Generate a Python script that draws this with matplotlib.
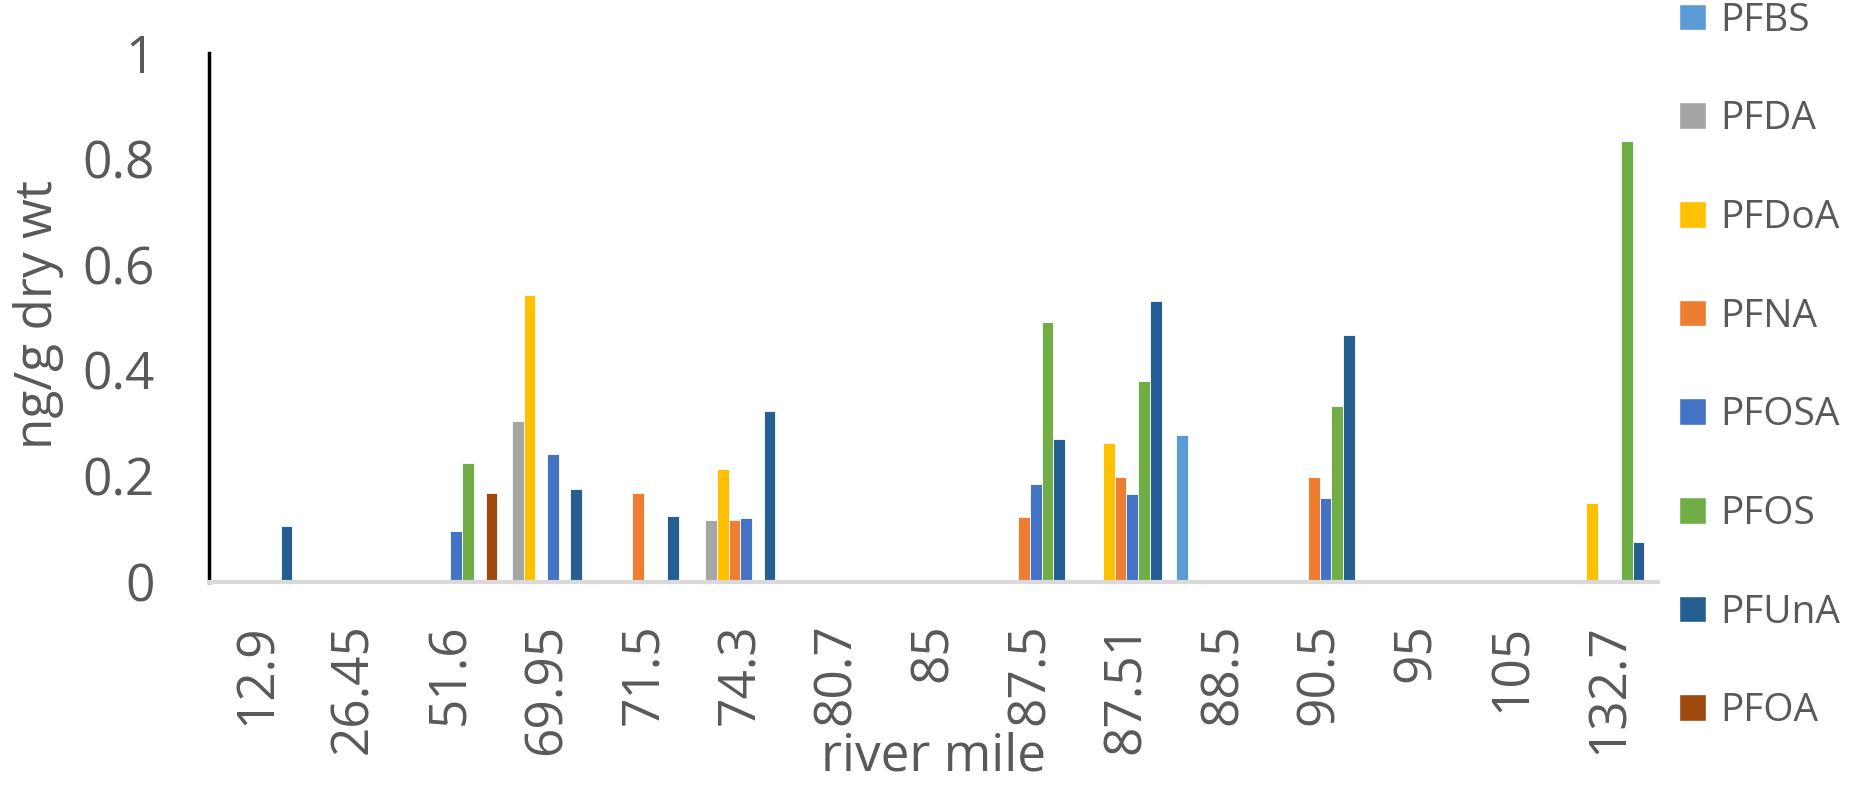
import numpy as np
import matplotlib
matplotlib.use("Agg")
import matplotlib.pyplot as plt
from matplotlib.patches import Patch

plt.rcParams['font.family'] = ['Open Sans', 'DejaVu Sans']

# river mile categories
miles = ['12.9', '26.45', '51.6', '69.95', '71.5', '74.3', '80.7', '85',
         '87.5', '87.51', '88.5', '90.5', '95', '105', '132.7']

# ng/g dry wt (0 = no bar)
pfbs  = [0, 0, 0, 0, 0, 0, 0, 0, 0, 0, 0.278, 0, 0, 0, 0]
pfda  = [0, 0, 0, 0.305, 0, 0.117, 0, 0, 0, 0, 0, 0, 0, 0, 0]
pfdoa = [0, 0, 0, 0.543, 0, 0.214, 0, 0, 0, 0.263, 0, 0, 0, 0, 0.148]
pfna  = [0, 0, 0, 0, 0.167, 0.117, 0, 0, 0.123, 0.199, 0, 0.199, 0, 0, 0]
pfosa = [0, 0, 0.095, 0.242, 0, 0.121, 0, 0, 0.184, 0.166, 0, 0.159, 0, 0, 0]
pfos  = [0, 0, 0.224, 0, 0, 0, 0, 0, 0.491, 0.380, 0, 0.332, 0, 0, 0.834]
pfuna = [0.106, 0, 0, 0.175, 0.124, 0.323, 0, 0, 0.271, 0.531, 0, 0.466, 0, 0, 0.076]
pfoa  = [0, 0, 0.167, 0, 0, 0, 0, 0, 0, 0, 0, 0, 0, 0, 0]

names = ['PFBS', 'PFDA', 'PFDoA', 'PFNA', 'PFOSA', 'PFOS', 'PFUnA', 'PFOA']
series = [pfbs, pfda, pfdoa, pfna, pfosa, pfos, pfuna, pfoa]
colors = ['#5B9BD5', '#A5A5A5', '#FFC000', '#ED7D31', '#4472C4', '#70AD47', '#255E91', '#9E480E']
txt = '#595959'

fig = plt.figure(figsize=(18.5, 7.85), dpi=100)
ax = fig.add_axes([0.113, 0.259, 0.783, 0.673])

x = np.arange(len(miles))
w = 0.121
for k, (vals, c) in enumerate(zip(series, colors)):
    vals = np.array(vals, dtype=float)
    m = vals > 0
    ax.bar(x[m] + (k - 3.5) * w, vals[m], width=w, color=c,
           edgecolor='white', linewidth=0.6)

ax.set_xlim(-0.5, len(miles) - 0.5)
ax.set_ylim(0, 1)
ax.set_yticks(np.arange(0, 1.01, 0.2))
ax.set_yticklabels(['0', '0.2', '0.4', '0.6', '0.8', '1'])
ax.set_xticks(x)
ax.set_xticklabels(miles, rotation=90)
ax.tick_params(axis='both', length=0, labelsize=37, colors=txt)
ax.tick_params(axis='y', pad=39)
ax.tick_params(axis='x', pad=30)

for s in ['top', 'right']:
    ax.spines[s].set_visible(False)
ax.spines['left'].set_color('black')
ax.spines['left'].set_linewidth(2.5)
ax.spines['bottom'].set_color('#D9D9D9')
ax.spines['bottom'].set_linewidth(3)

ax.set_xlabel('river mile', fontsize=37, color=txt)
ax.xaxis.label.set_va('baseline')
ax.xaxis.set_label_coords(0.5, -0.357)
ax.set_ylabel('ng/g dry wt', fontsize=37, color=txt)
ax.yaxis.label.set_va('baseline')
ax.yaxis.set_label_coords(-0.1084, 0.506)

handles = [Patch(facecolor=c, edgecolor='white', label=n) for n, c in zip(names, colors)]
fig.legend(handles=handles, loc='upper left', bbox_to_anchor=(0.9076, 0.998),
           frameon=False, fontsize=28, labelcolor=txt,
           handlelength=0.68, handleheight=0.68, handletextpad=0.38,
           labelspacing=1.56, borderpad=0, borderaxespad=0)

fig.savefig('out.png', dpi=100)
